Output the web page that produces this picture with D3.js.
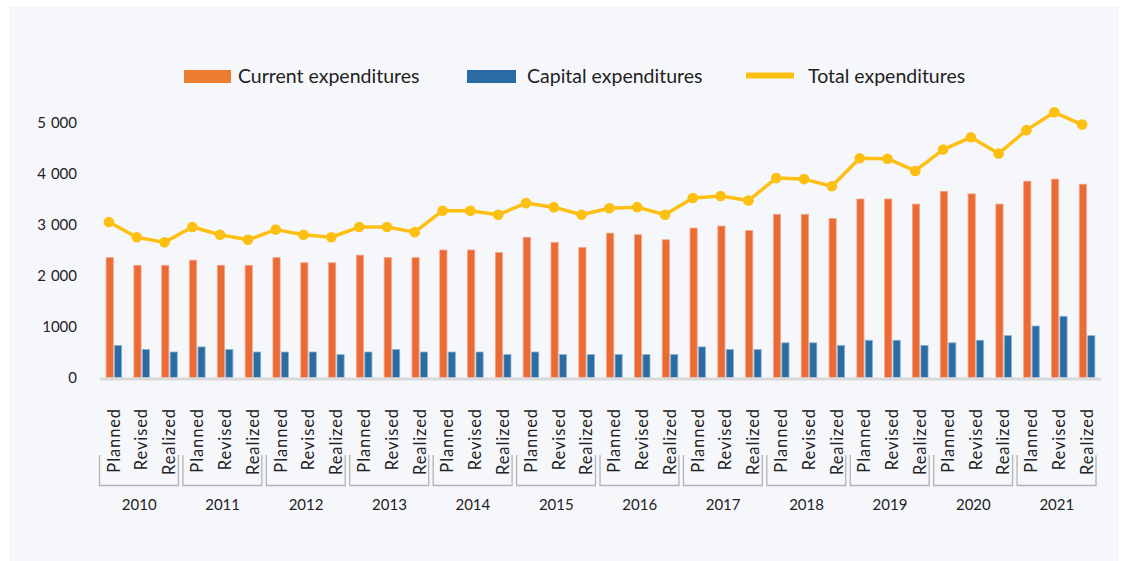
<!DOCTYPE html>
<html>

<head>
    <meta charset="utf-8">
    <script src="https://cdnjs.cloudflare.com/ajax/libs/d3/7.8.5/d3.min.js"></script>
    <style>
        body {
            margin: 0;
            background: #fff;
            font-family: Lato, "Open Sans", Arial, sans-serif;
        }

        svg text {
            fill: #222;
        }
    </style>
</head>

<body>
    <svg id="chart" width="1128" height="561"></svg>

    <script>
        // data
        var years = ["2010", "2011", "2012", "2013", "2014", "2015", "2016", "2017", "2018", "2019", "2020", "2021"];
        var stages = ["Planned", "Revised", "Realized"];

        var currentExp = [
            2350, 2200, 2200, 2300, 2200, 2200, 2350, 2250, 2250, 2400, 2350, 2350,
            2500, 2500, 2450, 2750, 2650, 2550, 2830, 2800, 2700, 2930, 2970, 2880,
            3200, 3200, 3120, 3500, 3500, 3400, 3650, 3600, 3400, 3850, 3890, 3790
        ];
        var capitalExp = [
            630, 550, 500, 600, 550, 500, 500, 500, 450, 500, 550, 500,
            500, 500, 450, 500, 450, 450, 450, 450, 450, 600, 550, 550,
            680, 680, 630, 730, 730, 630, 680, 730, 820, 1010, 1200, 820
        ];
        var totalExp = [
            3050, 2750, 2650, 2950, 2800, 2700, 2900, 2800, 2750, 2950, 2950, 2850,
            3270, 3270, 3190, 3420, 3340, 3190, 3320, 3340, 3190, 3520, 3560, 3470,
            3910, 3890, 3750, 4300, 4290, 4050, 4470, 4710, 4390, 4850, 5200, 4960
        ];

        var yTicks = [0, 1000, 2000, 3000, 4000, 5000];
        var yTickLabels = ["0", "1000", "2 000", "3 000", "4 000", "5 000"];

        var legendNames = ["Current expenditures", "Capital expenditures", "Total expenditures"];

        var orange = "#ec6a33",
            blue = "#2b6ca2",
            yellow = "#fdbf12";

        var svg = d3.select("#chart");

        // light panel behind everything
        svg.append("rect")
            .attr("x", 9)
            .attr("y", 7)
            .attr("width", 1110)
            .attr("height", 554)
            .attr("fill", "#f6f7fb");

        // one slot per year/stage pair
        var cats = [];
        years.forEach(function(y) {
            stages.forEach(function(s) {
                cats.push(y + "|" + s);
            });
        });

        var x = d3.scaleBand()
            .domain(cats)
            .range([100, 1101])
            .padding(0);

        var xSeries = d3.scaleBand()
            .domain(["cur", "cap"])
            .range([x.bandwidth() * 0.22, x.bandwidth() * 0.78])
            .paddingInner(0.15);

        var y = d3.scaleLinear()
            .domain([0, 5000])
            .range([377.5, 122.5]);

        // y axis labels (no line, no ticks)
        svg.append("g")
            .selectAll("text")
            .data(yTicks)
            .enter()
            .append("text")
            .attr("x", 77)
            .attr("y", function(d) { return y(d); })
            .attr("dy", "0.35em")
            .attr("text-anchor", "end")
            .style("font-size", "15px")
            .style("word-spacing", "1px")
            .text(function(d, i) { return yTickLabels[i]; });

        // bars
        var bars = svg.append("g");

        bars.selectAll("rect.cur")
            .data(currentExp)
            .enter()
            .append("rect")
            .attr("class", "cur")
            .attr("x", function(d, i) { return x(cats[i]) + xSeries("cur"); })
            .attr("width", xSeries.bandwidth())
            .attr("y", function(d) { return y(d); })
            .attr("height", function(d) { return y(0) - y(d); })
            .attr("fill", orange)
            .attr("stroke", "#f3a486")
            .attr("stroke-width", 0.8);

        bars.selectAll("rect.cap")
            .data(capitalExp)
            .enter()
            .append("rect")
            .attr("class", "cap")
            .attr("x", function(d, i) { return x(cats[i]) + xSeries("cap"); })
            .attr("width", xSeries.bandwidth())
            .attr("y", function(d) { return y(d); })
            .attr("height", function(d) { return y(0) - y(d); })
            .attr("fill", blue)
            .attr("stroke", "#8cb2d6")
            .attr("stroke-width", 0.8);

        // x axis baseline
        svg.append("line")
            .attr("x1", 100)
            .attr("x2", 1101)
            .attr("y1", y(0) + 1.5)
            .attr("y2", y(0) + 1.5)
            .attr("stroke", "#d9d9dc")
            .attr("stroke-width", 3);

        // total line
        var line = d3.line()
            .x(function(d, i) { return x(cats[i]) + x.bandwidth() / 2 - 5; })
            .y(function(d) { return y(d); });

        svg.append("path")
            .datum(totalExp)
            .attr("d", line)
            .attr("fill", "none")
            .attr("stroke", yellow)
            .attr("stroke-width", 3.5)
            .attr("stroke-linejoin", "round");

        svg.append("g")
            .selectAll("circle")
            .data(totalExp)
            .enter()
            .append("circle")
            .attr("cx", function(d, i) { return x(cats[i]) + x.bandwidth() / 2 - 5; })
            .attr("cy", function(d) { return y(d); })
            .attr("r", 5.3)
            .attr("fill", yellow);

        // stage labels, rotated
        svg.append("g")
            .selectAll("text")
            .data(cats)
            .enter()
            .append("text")
            .attr("transform", function(d) {
                return "translate(" + (x(d) + x.bandwidth() / 2) + ",408) rotate(-90)";
            })
            .attr("dy", "0.35em")
            .attr("text-anchor", "end")
            .style("font-size", "16.5px")
            .style("letter-spacing", "0.9px")
            .text(function(d) { return d.split("|")[1]; });

        // year brackets
        var groupW = x.step() * 3;
        var brackets = svg.append("g");

        brackets.selectAll("path")
            .data(years)
            .enter()
            .append("path")
            .attr("d", function(d, i) {
                var x0 = x(d + "|Planned") - 0.5,
                    x1 = x0 + groupW - 4.5;
                return "M" + x0 + ",455V485.5H" + x1 + "V455";
            })
            .attr("fill", "none")
            .attr("stroke", "#b4b4b6")
            .attr("stroke-width", 1.3);

        brackets.selectAll("text")
            .data(years)
            .enter()
            .append("text")
            .attr("x", function(d) { return x(d + "|Planned") + groupW / 2 - 2.5; })
            .attr("y", 505)
            .attr("dy", "0.35em")
            .attr("text-anchor", "middle")
            .style("font-size", "15px")
            .text(function(d) { return d; });

        // legend
        var legendX = [184, 467, 746];
        var legend = svg.append("g");

        legend.append("rect")
            .attr("x", legendX[0]).attr("y", 70)
            .attr("width", 47).attr("height", 13)
            .attr("fill", "#ed7d31");
        legend.append("rect")
            .attr("x", legendX[1]).attr("y", 70)
            .attr("width", 49).attr("height", 13)
            .attr("fill", "#2a6ba3");
        legend.append("line")
            .attr("x1", legendX[2]).attr("x2", legendX[2] + 48)
            .attr("y1", 75.5).attr("y2", 75.5)
            .attr("stroke", yellow)
            .attr("stroke-width", 6);

        legend.selectAll("text")
            .data(legendNames)
            .enter()
            .append("text")
            .attr("x", function(d, i) { return [238, 527, 808][i]; })
            .attr("y", 76)
            .attr("dy", "0.35em")
            .style("font-size", "19.5px")
            .text(function(d) { return d; });
    </script>
</body>

</html>
